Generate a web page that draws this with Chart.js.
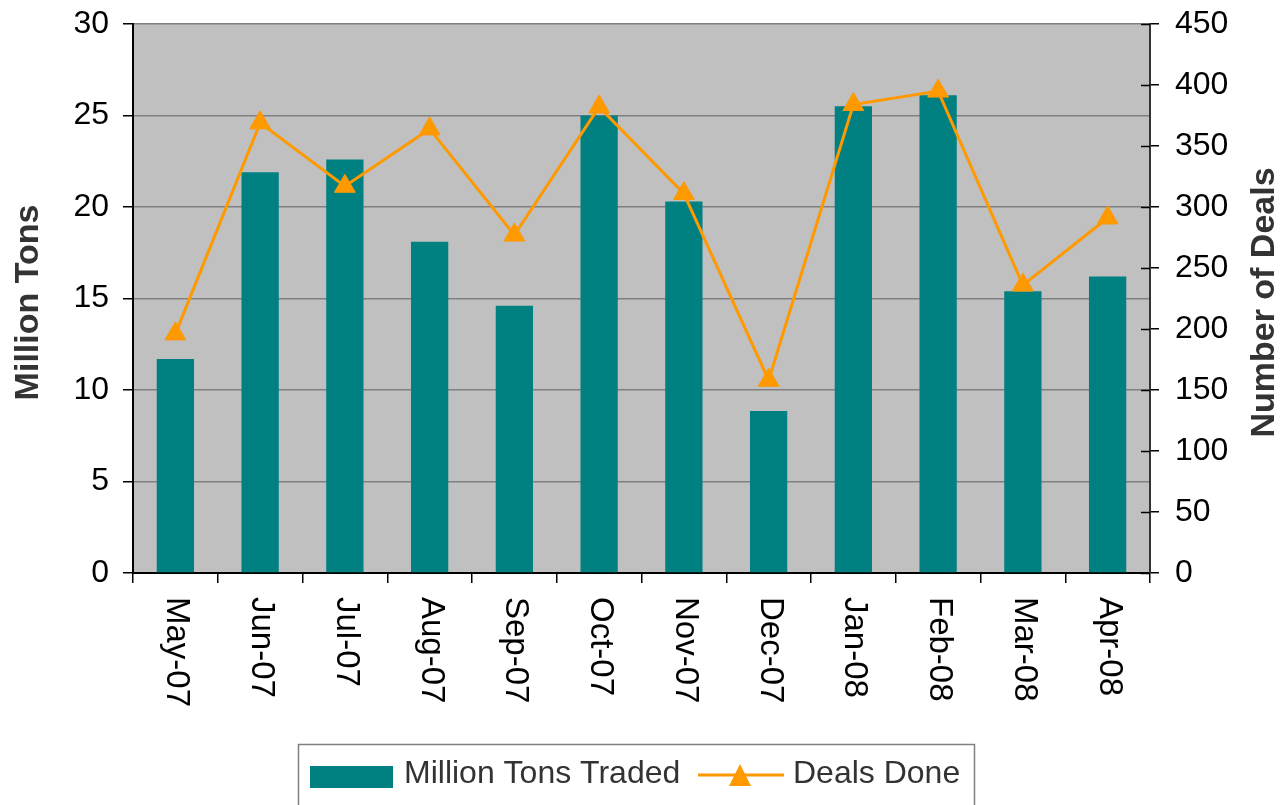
<!DOCTYPE html>
<html>
<head>
<meta charset="utf-8">
<script src="https://cdn.jsdelivr.net/npm/chart.js@4"></script>
<style>
  html, body { margin: 0; padding: 0; background: #fff; }
  #wrap { width: 1285px; height: 805px; }
</style>
</head>
<body>
<div id="wrap"><canvas id="chart" width="1285" height="805"></canvas></div>
<script>
// data
const months = ["May-07", "Jun-07", "Jul-07", "Aug-07", "Sep-07", "Oct-07",
  "Nov-07", "Dec-07", "Jan-08", "Feb-08", "Mar-08", "Apr-08"];
const tonsTraded = [11.7, 21.9, 22.6, 18.1, 14.6, 25.0, 20.3, 8.85, 25.5, 26.1, 15.4, 16.2];
const dealsDone = [196, 369, 317, 364, 277, 382, 311, 158, 384, 395, 236, 291];
const seriesNames = ["Million Tons Traded", "Deals Done"];
const axisTitles = ["Million Tons", "Number of Deals"];

const TEAL = "#008080";
const ORANGE = "#FF9900";
const FONT = "'Liberation Sans', Arial, sans-serif";

// background, custom labels, titles, legend
const decor = {
  id: "decor",
  beforeDraw(chart) {
    const { ctx, chartArea: a } = chart;
    ctx.save();
    ctx.fillStyle = "#C0C0C0";
    ctx.fillRect(a.left, a.top, a.right - a.left, a.bottom - a.top);
    ctx.restore();
  },
  afterDraw(chart) {
    const { ctx, chartArea: a, scales } = chart;
    ctx.save();

    // x labels, rotated clockwise
    ctx.fillStyle = "#000";
    ctx.font = "33px " + FONT;
    ctx.textAlign = "left";
    ctx.textBaseline = "middle";
    months.forEach((m, i) => {
      const x = scales.x.getPixelForTick(i);
      ctx.save();
      ctx.translate(x + 1, a.bottom + 24);
      ctx.rotate(Math.PI / 2);
      ctx.fillText(m, 0, 0);
      ctx.restore();
    });

    // inner ticks on right axis
    ctx.strokeStyle = "#000";
    ctx.lineWidth = 1.5;
    scales.y1.ticks.forEach((t) => {
      const y = Math.round(scales.y1.getPixelForValue(t.value)) + 0.5;
      ctx.beginPath();
      ctx.moveTo(a.right - 9, y);
      ctx.lineTo(a.right, y);
      ctx.stroke();
    });

    // axis titles
    ctx.fillStyle = "#333";
    ctx.font = "bold 34px " + FONT;
    ctx.textAlign = "center";
    ctx.textBaseline = "middle";
    const midY = (a.top + a.bottom) / 2 + 4;
    ctx.save();
    ctx.translate(29, midY);
    ctx.rotate(-Math.PI / 2);
    ctx.fillText(axisTitles[0], 0, 0);
    ctx.restore();
    ctx.save();
    ctx.translate(1265, midY);
    ctx.rotate(-Math.PI / 2);
    ctx.fillText(axisTitles[1], 0, 0);
    ctx.restore();

    // legend
    ctx.strokeStyle = "#808080";
    ctx.lineWidth = 1.5;
    ctx.strokeRect(298.5, 744.5, 676, 70);
    ctx.fillStyle = TEAL;
    ctx.fillRect(310, 766, 83, 22);
    ctx.fillStyle = "#333";
    ctx.font = "32px " + FONT;
    ctx.textAlign = "left";
    ctx.textBaseline = "middle";
    ctx.fillText(seriesNames[0], 404, 774);
    ctx.strokeStyle = ORANGE;
    ctx.lineWidth = 3;
    ctx.beginPath();
    ctx.moveTo(698, 775);
    ctx.lineTo(784, 775);
    ctx.stroke();
    ctx.fillStyle = ORANGE;
    ctx.beginPath();
    ctx.moveTo(740, 764);
    ctx.lineTo(751, 786);
    ctx.lineTo(729, 786);
    ctx.closePath();
    ctx.fill();
    ctx.fillStyle = "#333";
    ctx.fillText(seriesNames[1], 793, 774);

    ctx.restore();
  },
};

const ctx = document.getElementById("chart").getContext("2d");

new Chart(ctx, {
  data: {
    labels: months,
    datasets: [
      {
        type: "line",
        label: seriesNames[1],
        data: dealsDone,
        yAxisID: "y1",
        borderColor: ORANGE,
        backgroundColor: ORANGE,
        borderWidth: 3,
        pointStyle: "triangle",
        pointRadius: 12,
        pointBorderWidth: 1,
        tension: 0,
        clip: false,
        order: 0,
      },
      {
        type: "bar",
        label: seriesNames[0],
        data: tonsTraded,
        yAxisID: "y",
        backgroundColor: TEAL,
        categoryPercentage: 1,
        barPercentage: 0.44,
        order: 1,
      },
    ],
  },
  options: {
    responsive: false,
    animation: false,
    layout: { autoPadding: false, padding: { top: 24, left: 0, right: 0, bottom: 0 } },
    plugins: {
      legend: { display: false },
      tooltip: { enabled: false },
    },
    scales: {
      x: {
        grid: {
          offset: true,
          drawOnChartArea: false,
          tickLength: 10,
          tickColor: "#000",
          lineWidth: 1.5,
        },
        border: { color: "#000", width: 2 },
        ticks: { display: false },
        afterFit: (s) => { s.height = 232; },
      },
      y: {
        position: "left",
        min: 0,
        max: 30,
        ticks: {
          stepSize: 5,
          color: "#000",
          font: { family: FONT, size: 32 },
          padding: 14,
        },
        grid: { color: "#808080", lineWidth: 1.5, tickLength: 10, tickColor: "#000" },
        border: { color: "#000", width: 2 },
        afterFit: (s) => { s.width = 133; s.paddingTop = 0; s.paddingBottom = 0; },
      },
      y1: {
        position: "right",
        min: 0,
        max: 450,
        ticks: {
          stepSize: 50,
          color: "#000",
          font: { family: FONT, size: 32 },
          padding: 16,
        },
        grid: { drawOnChartArea: false, tickLength: 9, tickColor: "#000", lineWidth: 1.5 },
        border: { color: "#333", width: 2 },
        afterFit: (s) => { s.width = 135; s.paddingTop = 0; s.paddingBottom = 0; },
      },
    },
  },
  plugins: [decor],
});
</script>
</body>
</html>
